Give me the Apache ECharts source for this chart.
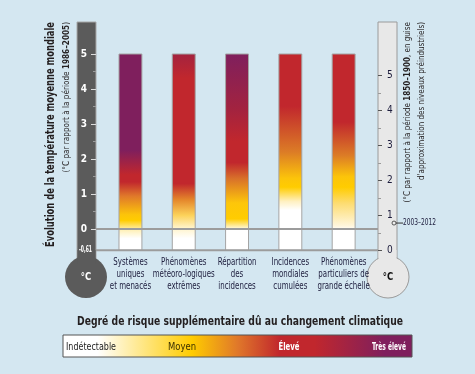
<!DOCTYPE html>
<html><head><meta charset="utf-8">
<script src="https://cdn.jsdelivr.net/npm/echarts@6/dist/echarts.min.js"></script>
<style>html,body{margin:0;padding:0;background:#d4e7f1;}#c{width:475px;height:374px;}</style>
</head><body><div id="c"></div>
<script>
// ---- data ----
const categories = ['Systèmes\nuniques\net menacés', 'Phénomènes\nmétéoro-logiques\nextrêmes', 'Répartition\ndes\nincidences', 'Incidences\nmondiales\ncumulées', 'Phénomènes\nparticuliers de\ngrande échelle'];
const barTop = [5, 5, 5, 5, 5];
const barBottom = [-0.61, -0.61, -0.61, -0.61, -0.61];
// risk colour transitions along each bar: [temperature (°C, 1986–2005 ref), colour]
const riskStops1 = [[-0.26,'#ffffff'],[-0.02,'#fff1b8'],[0.26,'#ffcc00'],[0.42,'#fcc40a'],[0.95,'#e0782a'],[1.35,'#c1272d'],[1.55,'#c1272d'],[2.25,'#7f1f5d'],[5,'#7f1f5d']];
const riskStops2 = [[-0.26,'#ffffff'],[0.05,'#fff3c8'],[0.4,'#fcd25a'],[0.85,'#e4852a'],[1.3,'#c1272d'],[4.3,'#c1272d'],[5,'#a3233f']];
const riskStops3 = [[-0.02,'#ffffff'],[0.3,'#ffcc00'],[0.75,'#fdc60a'],[1.45,'#d8702a'],[1.9,'#c1272d'],[2.5,'#c1272d'],[3.4,'#a3233f'],[5,'#7f1f5d']];
const riskStops4 = [[0.55,'#ffffff'],[0.8,'#fff0c0'],[1.2,'#ffcc00'],[1.45,'#fcc40a'],[2.2,'#dc7c26'],[3.5,'#c1272d'],[5,'#c1272d']];
const riskStops5 = [[-0.02,'#ffffff'],[0.1,'#fff6dc'],[0.75,'#fddc70'],[1.2,'#ffcc00'],[1.5,'#fcc40a'],[2.1,'#dc7c26'],[3.05,'#c1272d'],[5,'#c1272d']];
const riskStops = [riskStops1, riskStops2, riskStops3, riskStops4, riskStops5];
const baselines = [0, -0.61];               // 0 = 1986–2005, -0.61 = 1850–1900
const obsLabel = '2003–2012';
const obsValue = 0.78;                      // °C relative to 1850–1900
const riskLabels = ['Indétectable', 'Moyen', 'Élevé', 'Très élevé'];

// ---- chart ----
const FONT = "'Liberation Sans Narrow','DejaVu Sans Condensed','Roboto Condensed','Liberation Sans',sans-serif";
const NAVY = '#1c1c3c';
const DARK = '#231f20';
const mctx = document.createElement('canvas').getContext('2d');
function fit(text, font, target) { mctx.font = font; return target / mctx.measureText(text).width; }

const chart = echarts.init(document.getElementById('c'), null, {renderer: 'canvas'});

const plotTop = 22.85, plotH = 227.5; // -0.61 .. 5.89
const gradientOf = (stops, lo, hi) => ({
  type: 'linear', x: 0, y: 1, x2: 0, y2: 0,
  colorStops: stops.map(([t, c]) => ({offset: Math.min(1, Math.max(0, (t - lo) / (hi - lo))), color: c}))
});
const CAT_FONT = '10px ' + FONT;
const catScale = fit('météoro-logiques', CAT_FONT, 62);

const titleFont = 'bold 11.5px ' + FONT;
const titleText = 'Évolution de la température moyenne mondiale';
const sub1 = '(°C par rapport à la période 1986–2005)';
const sub2a = '(°C par rapport à la période 1850–1900, en guise';
const sub2b = "d'approximation des niveaux préindustriels)";
const legTitle = 'Degré de risque supplémentaire dû au changement climatique';

const option = {
  backgroundColor: '#d4e7f1',
  animation: false,
  textStyle: {fontFamily: FONT},
  grid: [
    {left: 103.8, width: 266.5, top: plotTop, height: plotH, outerBoundsMode: 'none'},
    {left: 96, width: 282, top: plotTop, height: plotH, outerBoundsMode: 'none'},
    {left: 96, width: 10, top: 54, height: 175, outerBoundsMode: 'none'},
    {left: 378, width: 97, top: 75.35, height: 175, outerBoundsMode: 'none'}
  ],
  xAxis: [
    {type: 'category', gridIndex: 0, data: categories, show: false},
    {type: 'value', gridIndex: 1, min: 0, max: 1, show: false},
    {type: 'value', gridIndex: 2, min: 0, max: 1, show: false},
    {type: 'value', gridIndex: 3, min: 0, max: 97, show: false}
  ],
  yAxis: [
    {type: 'value', gridIndex: 0, min: -0.61, max: 5.89, show: false},
    {type: 'value', gridIndex: 1, min: -0.61, max: 5.89, show: false},
    {type: 'value', gridIndex: 2, min: 0, max: 5, interval: 1, position: 'left',
     axisLine: {show: false}, splitLine: {show: false},
     axisTick: {length: 5, lineStyle: {color: '#dddddd', width: 1}},
     minorTick: {show: true, splitNumber: 2, length: 3, lineStyle: {color: '#9a9a9a'}},
     minorSplitLine: {show: false},
     axisLabel: {color: '#ffffff', fontWeight: 'bold', fontSize: 10, margin: 9, fontFamily: FONT}},
    {type: 'value', gridIndex: 3, min: 0, max: 5, interval: 1, position: 'left',
     axisLine: {show: false}, splitLine: {show: false},
     axisTick: {inside: true, length: 4, lineStyle: {color: '#555555', width: 1}},
     minorTick: {show: true, splitNumber: 2, length: 3, lineStyle: {color: '#9a9a9a'}},
     minorSplitLine: {show: false},
     axisLabel: {inside: true, color: NAVY, fontSize: 10, margin: 9, fontFamily: FONT}}
  ],
  series: [
    {
      type: 'custom', xAxisIndex: 0, yAxisIndex: 0, z: 2,
      data: categories.map((c, i) => [i, barBottom[i], barTop[i]]),
      encode: {x: 0, y: [1, 2]},
      renderItem: (params, api) => {
        const i = api.value(0);
        const lo = api.value(1), hi = api.value(2);
        const p0 = api.coord([i, lo]);
        const p1 = api.coord([i, hi]);
        const w = api.size([1, 0])[0] * 0.43;
        return {
          type: 'group',
          children: [
            {type: 'rect',
             shape: {x: p0[0] - w / 2, y: p1[1], width: w, height: p0[1] - p1[1]},
             style: {fill: gradientOf(riskStops[i], lo, hi), stroke: '#a4a4a4', lineWidth: 1}},
            {type: 'text', x: p0[0], y: p0[1] + 6.5, scaleX: catScale,
             style: {text: categories[i], fill: NAVY, font: CAT_FONT, lineHeight: 12, align: 'center', verticalAlign: 'top'}}
          ]
        };
      }
    },
    {
      type: 'custom', xAxisIndex: 1, yAxisIndex: 1, z: 5,
      data: baselines.map(v => [0, v]),
      encode: {x: 0, y: 1},
      renderItem: (params, api) => {
        const v = api.value(1);
        const p = api.coord([0, v]);
        const w = params.coordSys.width;
        const children = [{type: 'line', shape: {x1: p[0], y1: p[1], x2: p[0] + w, y2: p[1]}, style: {stroke: '#9c9c9c', lineWidth: 2}}];
        if (v !== 0) {
          const t = String(v).replace('.', ',');
          const f = 'bold 8px ' + FONT;
          children.push({type: 'text', x: p[0] - 4, y: p[1], scaleX: fit(t, f, 13),
            style: {text: t, fill: '#ffffff', font: f, align: 'right', verticalAlign: 'middle'}});
        }
        return {type: 'group', children};
      }
    },
    {
      type: 'custom', xAxisIndex: 3, yAxisIndex: 3, z: 5,
      data: [[16, obsValue]],
      encode: {x: 0, y: 1},
      renderItem: (params, api) => {
        const p = api.coord([api.value(0), api.value(1)]);
        const lf = '9px ' + FONT;
        return {
          type: 'group',
          children: [
            {type: 'line', shape: {x1: p[0] + 2, y1: p[1], x2: p[0] + 9, y2: p[1]}, style: {stroke: '#333333', lineWidth: 1}},
            {type: 'circle', shape: {cx: p[0], cy: p[1], r: 2}, style: {fill: '#eeeeee', stroke: '#333333', lineWidth: 0.8}},
            {type: 'text', x: p[0] + 9, y: p[1], scaleX: fit(obsLabel, lf, 33),
             style: {text: obsLabel, fill: NAVY, font: lf, align: 'left', verticalAlign: 'middle'}}
          ]
        };
      }
    }
  ],
  graphic: [
    // left thermometer
    {type: 'rect', z: -5, shape: {x: 77, y: 22, width: 19, height: 242}, style: {fill: '#5b5b5b', stroke: '#a8a8a8', lineWidth: 1}},
    {type: 'circle', z: -4, shape: {cx: 86, cy: 277, r: 21}, style: {fill: '#5b5b5b'}},
    {type: 'rect', z: -4, shape: {x: 77.5, y: 250, width: 18, height: 14}, style: {fill: '#5b5b5b'}},
    {type: 'text', z: 10, x: 86, y: 277, scaleX: 0.85, style: {text: '°C', fill: '#ffffff', font: 'bold 11px ' + FONT, textAlign: 'center', textVerticalAlign: 'middle'}},
    // right thermometer
    {type: 'rect', z: -5, shape: {x: 378, y: 22, width: 19, height: 242}, style: {fill: '#e8e8e8', stroke: '#9a9a9a', lineWidth: 1}},
    {type: 'circle', z: -4, shape: {cx: 388, cy: 277, r: 21}, style: {fill: '#e8e8e8', stroke: '#9a9a9a', lineWidth: 1}},
    {type: 'rect', z: -3, shape: {x: 378.5, y: 250, width: 18, height: 14}, style: {fill: '#e8e8e8'}},
    {type: 'text', z: 10, x: 388, y: 277, scaleX: 0.85, style: {text: '°C', fill: '#111111', font: 'bold 11px ' + FONT, textAlign: 'center', textVerticalAlign: 'middle'}},
    // left titles
    {type: 'text', x: 51, y: 22, rotation: Math.PI / 2, scaleX: fit(titleText, titleFont, 225),
     style: {text: titleText, fill: DARK, font: titleFont, textAlign: 'right', textVerticalAlign: 'middle'}},
    {type: 'text', x: 67, y: 22, rotation: Math.PI / 2, scaleX: fit(sub1, '9px ' + FONT, 147),
     style: {text: '{a|(°C par rapport à la période }{b|1986–2005}{a|)}', textAlign: 'right', textVerticalAlign: 'middle',
       rich: {a: {fontSize: 9, fontFamily: FONT, fill: DARK}, b: {fontSize: 9, fontFamily: FONT, fontWeight: 'bold', fill: DARK}}}},
    // right titles
    {type: 'text', x: 408, y: 22, rotation: Math.PI / 2, scaleX: fit(sub2a, '9px ' + FONT, 177),
     style: {text: '{a|(°C par rapport à la période }{b|1850–1900}{a|, en guise}', textAlign: 'right', textVerticalAlign: 'middle',
       rich: {a: {fontSize: 9, fontFamily: FONT, fill: DARK}, b: {fontSize: 9, fontFamily: FONT, fontWeight: 'bold', fill: DARK}}}},
    {type: 'text', x: 422, y: 22, rotation: Math.PI / 2, scaleX: fit(sub2b, '9px ' + FONT, 158),
     style: {text: sub2b, fill: DARK, font: '9px ' + FONT, textAlign: 'right', textVerticalAlign: 'middle'}},
    // legend
    {type: 'text', x: 240, y: 322, scaleX: fit(legTitle, 'bold 12px ' + FONT, 326),
     style: {text: legTitle, fill: DARK, font: 'bold 12px ' + FONT, textAlign: 'center', textVerticalAlign: 'middle'}},
    {type: 'rect', shape: {x: 63, y: 335, width: 349, height: 22},
     style: {stroke: '#555555', lineWidth: 1, fill: {type: 'linear', x: 0, y: 0, x2: 1, y2: 0, colorStops: [
       {offset: 0, color: '#ffffff'}, {offset: 0.1, color: '#ffffff'}, {offset: 0.37, color: '#ffcc00'},
       {offset: 0.5, color: '#e0782a'}, {offset: 0.62, color: '#c1272d'}, {offset: 0.72, color: '#c1272d'},
       {offset: 0.92, color: '#7f1f5d'}, {offset: 1, color: '#7f1f5d'}]}}},
    {type: 'text', x: 66, y: 347, scaleX: fit(riskLabels[0], '11px ' + FONT, 50),
     style: {text: riskLabels[0], fill: '#222222', font: '11px ' + FONT, textAlign: 'left', textVerticalAlign: 'middle'}},
    {type: 'text', x: 182, y: 347, scaleX: fit(riskLabels[1], '11px ' + FONT, 28),
     style: {text: riskLabels[1], fill: '#3a3000', font: '11px ' + FONT, textAlign: 'center', textVerticalAlign: 'middle'}},
    {type: 'text', x: 289, y: 347, scaleX: fit(riskLabels[2], 'bold 11px ' + FONT, 21),
     style: {text: riskLabels[2], fill: '#ffffff', font: 'bold 11px ' + FONT, textAlign: 'center', textVerticalAlign: 'middle'}},
    {type: 'text', x: 389, y: 347, scaleX: fit(riskLabels[3], 'bold 11px ' + FONT, 34),
     style: {text: riskLabels[3], fill: '#ffffff', font: 'bold 11px ' + FONT, textAlign: 'center', textVerticalAlign: 'middle'}}
  ]
};
chart.setOption(option);
</script>
</body></html>
